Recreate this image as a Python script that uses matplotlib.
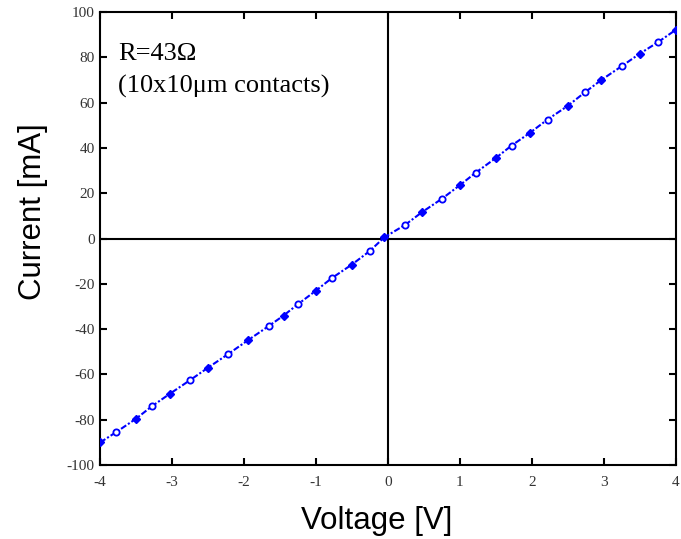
import matplotlib.pyplot as plt
import numpy as np

plt.rcParams["axes.unicode_minus"] = False

# I-V sweep
voltage = [-4.0, -3.78, -3.5, -3.28, -3.03, -2.75, -2.5, -2.22, -1.95, -1.65,
           -1.45, -1.25, -1.0, -0.78, -0.5, -0.25, -0.05, 0.24, 0.47, 0.75,
           1.0, 1.22, 1.5, 1.72, 1.97, 2.22, 2.5, 2.74, 2.97, 3.25, 3.5, 3.75, 4.0]
current = [-90.0, -85.5, -79.5, -74.0, -68.5, -62.5, -57.0, -51.0, -45.0, -38.5,
           -34.0, -29.0, -23.0, -17.5, -11.5, -5.5, 0.5, 6.0, 11.5, 17.5,
           23.5, 29.0, 35.5, 41.0, 46.5, 52.5, 58.5, 64.5, 70.0, 76.0, 81.5, 86.5, 92.0]

xticks = [-4, -3, -2, -1, 0, 1, 2, 3, 4]
yticks = [-100, -80, -60, -40, -20, 0, 20, 40, 60, 80, 100]

fig = plt.figure(figsize=(6.81, 5.39), dpi=100)
ax = fig.add_axes([0.147, 0.137, 0.845, 0.841])

ax.axhline(0, color="black", lw=1.5, zorder=1)
ax.axvline(0, color="black", lw=1.5, zorder=1)

v = np.array(voltage)
i = np.array(current)
ax.plot(v, i, color="blue", lw=1.5, ls=(0, (3, 1, 1, 1)), zorder=2)
ax.plot(v[::2], i[::2], "D", color="blue", ms=4.5, zorder=3)
ax.plot(v[1::2], i[1::2], "o", mfc="white", mec="blue", mew=1.3, ms=4.5, zorder=3)

ax.set_xlim(-4, 4)
ax.set_ylim(-100, 100)
ax.set_xticks(xticks)
ax.set_yticks(yticks)
ax.tick_params(direction="in", top=True, right=True, length=5, width=1.5,
               labelsize=11, colors="black")
ax.tick_params(axis="x", pad=8)
ax.tick_params(axis="y", pad=4)
for lab in ax.get_xticklabels() + ax.get_yticklabels():
    lab.set_family("Liberation Serif")
    lab.set_color("#333333")
for s in ax.spines.values():
    s.set_linewidth(1.5)

fig.text(0.5536, 0.0334, "Voltage [V]", family="Liberation Sans", fontsize=22.5,
         ha="center", va="center")
fig.text(0.0485, 0.6067, "Current [mA]", family="Liberation Sans", fontsize=22.5,
         ha="center", va="center", rotation=90)

ax.text(0.031, 0.894, "R=43\u03a9", transform=ax.transAxes, family="Liberation Serif",
        fontsize=19, va="baseline")
ax.text(0.031, 0.821, "(10x10\u03bcm contacts)", transform=ax.transAxes,
        family="Liberation Serif", fontsize=19, va="baseline")

fig.savefig("out.png", dpi=100)
